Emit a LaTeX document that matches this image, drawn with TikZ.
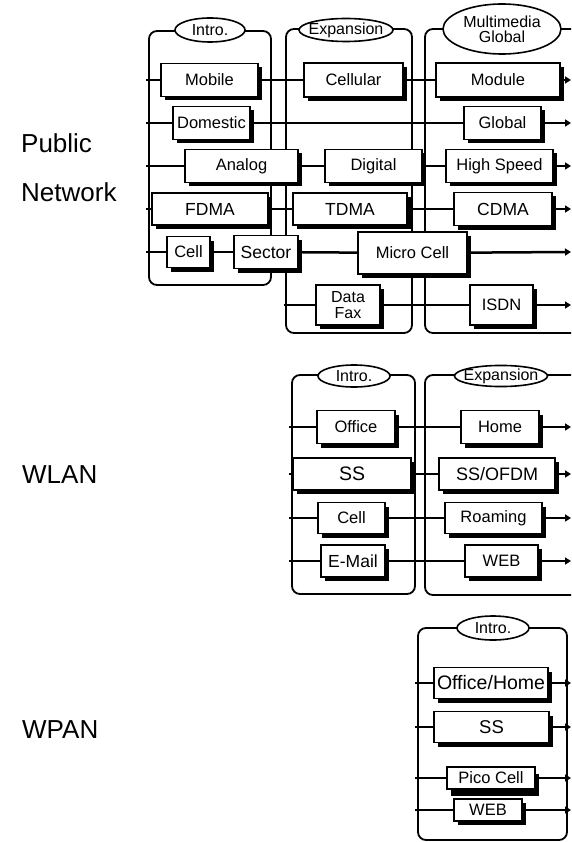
\documentclass[tikz,border=0pt]{standalone}
\usepackage{fontspec}
\setmainfont{Liberation Sans}
\usetikzlibrary{shapes.geometric,shadows,arrows.meta}
\begin{document}
\begin{tikzpicture}[x=1pt,y=-1pt,
  frm/.style={draw, line width=1.8pt, rounded corners=8pt},
  bxbase/.style={draw, fill=white, line width=1.7pt, inner sep=0pt,
    font=\fontsize{16.5}{15.5}\selectfont, align=center},
  bx/.style={bxbase, drop shadow={shadow xshift=3.5pt, shadow yshift=-4pt, fill=black, opacity=1}},
  bxdeep/.style={bxbase, drop shadow={shadow xshift=4pt, shadow yshift=-7pt, fill=black, opacity=1}},
  big/.style={font=\fontsize{17.5}{17}\selectfont},
  huge/.style={font=\fontsize{19.5}{19}\selectfont},
  tag/.style={ellipse, draw, fill=white, line width=1.6pt, inner sep=0pt,
    font=\fontsize{16}{13}\selectfont},
  conn/.style={line width=2.5pt},
  arr/.style={conn, -{Triangle[length=6pt,width=7pt]}},
  lbl/.style={anchor=base west, inner sep=0pt, font=\fontsize{26}{26}\selectfont}
]
\useasboundingbox (0,0) rectangle (571,842);
\clip (0,0) rectangle (571,842);

% ---------- side labels ----------
\node[lbl] (lpub) at (21,153) {Public};
\node[lbl] (lnet) at (21,202) {Network};
\node[lbl] (lwlan) at (22,483) {WLAN};
\node[lbl] (lwpan) at (22,738) {WPAN};

% ---------- Public network: phase frames ----------
\draw[frm] (149,31) rectangle (271,285);
\draw[frm] (286,29) rectangle (412,333);
\draw[frm] (425,29) rectangle (600,333);
\node[tag, minimum width=70pt, minimum height=24pt] (p1) at (210,30) {\makebox[0pt]{Intro.}};
\node[tag, minimum width=94pt, minimum height=23pt] (p2) at (346,30) {\makebox[0pt]{Expansion}};
\node[tag, minimum width=118pt, minimum height=50pt] (p3) at (502,29) {\makebox[0pt]{\shortstack{Multimedia\\Global}}};

% row 1
\node[bx, minimum width=97pt, minimum height=33pt] (mob) at (209.5,80) {Mobile};
\node[bx, minimum width=99pt, minimum height=34pt] (cel) at (353.5,80) {Cellular};
\node[bx, minimum width=124pt, minimum height=34pt] (mod) at (498,80) {Module};
% row 2
\node[bx, minimum width=77pt, minimum height=33pt] (dom) at (211.5,123) {Domestic};
\node[bx, minimum width=77pt, minimum height=33pt] (glo) at (502.5,123) {Global};
% row 3
\node[bx, minimum width=113pt, minimum height=33pt] (ana) at (241.5,166) {Analog};
\node[bx, minimum width=97pt, minimum height=33pt] (dig) at (373.5,166) {Digital};
\node[bx, minimum width=107pt, minimum height=33pt] (hsp) at (499.5,166) {High Speed};
% row 4
\node[bx, big, minimum width=116pt, minimum height=32pt] (fdm) at (210,209) {FDMA};
\node[bx, big, minimum width=114pt, minimum height=32pt] (tdm) at (350,209) {TDMA};
\node[bx, big, minimum width=98pt, minimum height=33pt] (cdm) at (503,209) {CDMA};
% row 5
\node[bx, minimum width=43pt, minimum height=31pt] (pcel) at (188.5,252) {Cell};
\node[bx, big, minimum width=64pt, minimum height=33pt] (sec) at (266,252) {Sector};
\node[bx, minimum width=109pt, minimum height=42pt] (mic) at (412.5,253) {Micro Cell};
% row 6
\node[bx, font=\fontsize{16}{15.5}\selectfont, minimum width=64pt, minimum height=40pt] (dfx) at (348,305) {Data\\Fax};
\node[bx, minimum width=63pt, minimum height=40pt] (isd) at (501.5,305) {ISDN};

% row ends
\coordinate (r1s) at (146,80);  \coordinate (r1e) at (571,80);
\coordinate (r2s) at (146,123); \coordinate (r2e) at (571,123);
\coordinate (r3s) at (146,166); \coordinate (r3e) at (571,166);
\coordinate (r4s) at (146,209); \coordinate (r4e) at (571,209);
\coordinate (r5s) at (146,252); \coordinate (r5e) at (571,252);
\coordinate (r6s) at (284,305); \coordinate (r6e) at (571,305);

\draw[conn] (r1s) -- (mob); \draw[conn] (mob) -- (cel); \draw[conn] (cel) -- (mod); \draw[arr] (mod) -- (r1e);
\draw[conn] (r2s) -- (dom); \draw[conn] (dom) -- (glo); \draw[arr] (glo) -- (r2e);
\draw[conn] (r3s) -- (ana); \draw[conn] (ana) -- (dig); \draw[conn] (dig) -- (hsp); \draw[arr] (hsp) -- (r3e);
\draw[conn] (r4s) -- (fdm); \draw[conn] (fdm) -- (tdm); \draw[conn] (tdm) -- (cdm); \draw[arr] (cdm) -- (r4e);
\draw[conn] (r5s) -- (pcel); \draw[conn] (pcel) -- (sec); \draw[conn] (sec) -- (mic); \draw[arr] (mic) -- (r5e);
\draw[conn] (r6s) -- (dfx); \draw[conn] (dfx) -- (isd); \draw[arr] (isd) -- (r6e);

% ---------- WLAN ----------
\draw[frm] (292,375) rectangle (415,594);
\draw[frm] (425,375) rectangle (600,595);
\node[tag, minimum width=72pt, minimum height=22pt] (w1) at (354,376) {\makebox[0pt]{Intro.}};
\node[tag, minimum width=93pt, minimum height=21pt] (w2) at (501,376) {\makebox[0pt]{Expansion}};

\node[bx, minimum width=78pt, minimum height=33pt] (off) at (356,427) {Office};
\node[bx, minimum width=78pt, minimum height=33pt] (hom) at (500,427) {Home};
\node[bx, huge, minimum width=118pt, minimum height=32pt] (wss) at (352,474) {SS};
\node[bx, font=\fontsize{18}{18}\selectfont, minimum width=116pt, minimum height=32pt] (sso) at (497,474) {SS/OFDM};
\node[bx, minimum width=67pt, minimum height=31pt] (wcel) at (351.5,518) {\raisebox{-3pt}{Cell}};
\node[bx, minimum width=97pt, minimum height=31pt] (roa) at (493.5,518) {\raisebox{3pt}{Roaming}};
\node[bx, big, minimum width=64pt, minimum height=32pt] (ema) at (353,561) {E-Mail};
\node[bx, minimum width=73pt, minimum height=32pt] (wweb) at (501.5,561) {WEB};

\coordinate (w1s) at (289,427); \coordinate (w1e) at (571,427);
\coordinate (w2s) at (289,474); \coordinate (w2e) at (571,474);
\coordinate (w3s) at (289,518); \coordinate (w3e) at (571,518);
\coordinate (w4s) at (289,561); \coordinate (w4e) at (571,561);

\draw[conn] (w1s) -- (off); \draw[conn] (off) -- (hom); \draw[arr] (hom) -- (w1e);
\draw[conn] (w2s) -- (wss); \draw[conn] (wss) -- (sso); \draw[arr] (sso) -- (w2e);
\draw[conn] (w3s) -- (wcel); \draw[conn] (wcel) -- (roa); \draw[arr] (roa) -- (w3e);
\draw[conn] (w4s) -- (ema); \draw[conn] (ema) -- (wweb); \draw[arr] (wweb) -- (w4e);

% ---------- WPAN ----------
\draw[frm] (418,628) rectangle (567,840);
\node[tag, minimum width=72pt, minimum height=24pt] (v1) at (493,628) {\makebox[0pt]{Intro.}};

\node[bx, huge, minimum width=114pt, minimum height=31pt] (ofh) at (491,683) {Office/Home};
\node[bx, font=\fontsize{18.5}{18}\selectfont, minimum width=115pt, minimum height=31pt] (vss) at (491.5,727) {SS};
\node[bxdeep, minimum width=88pt, minimum height=22pt] (pic) at (491,778) {Pico Cell};
\node[bx, minimum width=68pt, minimum height=22pt] (vweb) at (488,810) {WEB};

\coordinate (v1s) at (415,683); \coordinate (v1e) at (571,683);
\coordinate (v2s) at (415,727); \coordinate (v2e) at (571,727);
\coordinate (v3s) at (415,778); \coordinate (v3e) at (571,778);
\coordinate (v4s) at (415,810); \coordinate (v4e) at (571,810);

\draw[conn] (v1s) -- (ofh); \draw[arr] (ofh) -- (v1e);
\draw[conn] (v2s) -- (vss); \draw[arr] (vss) -- (v2e);
\draw[conn] (v3s) -- (pic); \draw[arr] (pic) -- (v3e);
\draw[conn] (v4s) -- (vweb); \draw[arr] (vweb) -- (v4e);
\end{tikzpicture}
\end{document}
